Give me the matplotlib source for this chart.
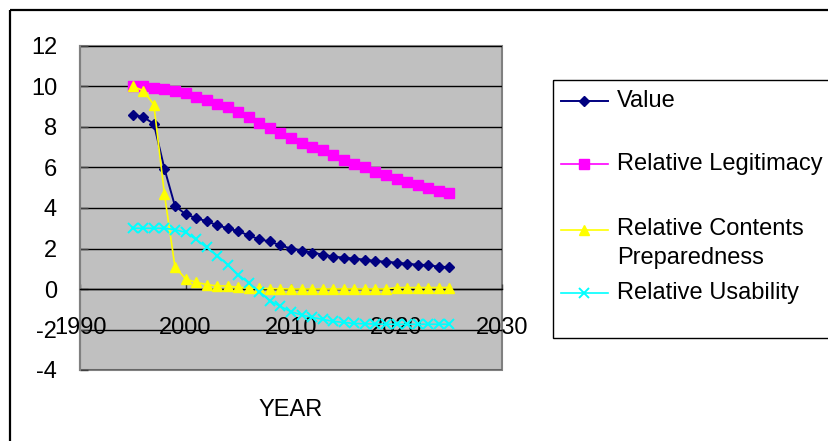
import matplotlib
matplotlib.use("Agg")
import matplotlib.pyplot as plt
from matplotlib.lines import Line2D
from matplotlib.patches import Rectangle

# ---- data ----
years = list(range(1995, 2026))
value = [8.6, 8.5, 8.15, 5.95, 4.1, 3.7, 3.5, 3.35, 3.15, 3.0, 2.85, 2.65, 2.45,
         2.35, 2.15, 2.0, 1.9, 1.8, 1.7, 1.6, 1.55, 1.5, 1.45, 1.38, 1.35, 1.3,
         1.25, 1.2, 1.18, 1.1, 1.08]
legitimacy = [10.0, 10.0, 9.95, 9.9, 9.8, 9.7, 9.5, 9.35, 9.15, 9.0, 8.75, 8.5,
              8.2, 7.95, 7.7, 7.45, 7.2, 7.0, 6.85, 6.6, 6.35, 6.15, 6.0, 5.8,
              5.65, 5.45, 5.3, 5.12, 5.0, 4.85, 4.75]
contents = [10.0, 9.8, 9.1, 4.7, 1.1, 0.5, 0.33, 0.22, 0.15, 0.15, 0.08, 0.05,
            0.03, 0.02, 0.01, 0.0, 0.0, 0.0, 0.0, 0.0, 0.0, 0.0, 0.0, 0.0, 0.0,
            0.07, 0.07, 0.07, 0.07, 0.07, 0.07]
usability = [3.0, 3.0, 3.0, 3.0, 2.93, 2.8, 2.45, 2.05, 1.65, 1.2, 0.7, 0.3,
             -0.13, -0.58, -0.86, -1.12, -1.28, -1.4, -1.5, -1.6, -1.65, -1.7,
             -1.72, -1.73, -1.74, -1.74, -1.74, -1.74, -1.74, -1.74, -1.74]

series_labels = ["Value", "Relative Legitimacy",
                 "Relative Contents\nPreparedness", "Relative Usability"]
x_ticks = [1990, 2000, 2010, 2020, 2030]
x_ticklabels = ["1990", "2000", "2010", "2020", "2030"]
y_ticks = [-4, -2, 0, 2, 4, 6, 8, 10, 12]
y_ticklabels = ["-4", "-2", "0", "2", "4", "6", "8", "10", "12"]
x_title = "YEAR"

# ---- styling ----
plt.rcParams['font.family'] = ['Liberation Sans', 'DejaVu Sans']
FS = 17
W, H = 829, 441
fig = plt.figure(figsize=(W / 100, H / 100), dpi=100)

def px_rect(l, t, r, b):
    return [l / W, 1 - b / H, (r - l) / W, (b - t) / H]

ax = fig.add_axes(px_rect(80, 46, 502, 370))
ax.set_facecolor("#C0C0C0")
ax.patch.set_edgecolor("#808080")
ax.patch.set_linewidth(1.5)

styles = [
    dict(color="#000080", marker="D", markersize=5.3, lw=1.4),
    dict(color="#FF00FF", marker="s", markersize=7.4, lw=1.2),
    dict(color="#FFFF00", marker="^", markersize=7.8, lw=1.2),
    dict(color="#00FFFF", marker="x", markersize=7.8, lw=1.2, mew=1.4),
]
data = [value, legitimacy, contents, usability]
for ys, st in zip(data, styles):
    ax.plot(years, ys, zorder=3, clip_on=False, **st)

ax.set_xlim(1990, 2030)
ax.set_ylim(-4, 12)
ax.set_yticks(y_ticks, y_ticklabels)
ax.set_xticks(x_ticks, x_ticklabels)
ax.yaxis.grid(True, color="black", lw=1.0, zorder=1)
ax.set_axisbelow(True)

for s in ["top", "right"]:
    ax.spines[s].set_visible(False)
ax.spines["left"].set_color("#808080")
ax.spines["left"].set_linewidth(1.5)
ax.spines["bottom"].set_position(("data", 0))
ax.spines["bottom"].set_color("black")
ax.spines["bottom"].set_linewidth(1.0)

ax.tick_params(axis="y", direction="in", length=6, width=1, color="#404040",
               pad=16.5, labelsize=FS)
ax.tick_params(axis="x", direction="in", length=3.5, width=1, color="#404040",
               pad=20, labelsize=FS)

ax.set_xlabel(x_title, fontsize=FS)
ax.xaxis.set_label_coords(0.5, -(409.5 - 370) / 324)
ax.xaxis.label.set_va("center")

# ---- overlay for frame and legend (pixel coords) ----
ov = fig.add_axes([0, 0, 1, 1], zorder=5)
ov.set_xlim(0, W)
ov.set_ylim(H, 0)
ov.axis("off")
ov.patch.set_alpha(0)

ov.add_patch(Rectangle((10, 10), 840, 450, fill=False, ec="black", lw=1.6,
                       clip_on=False))
ov.add_patch(Rectangle((553, 79.5), 300, 258, fill=False, ec="black", lw=1.0,
                       clip_on=False))

leg_line_y = [100.7, 164, 229.5, 292.7]
leg_text_y = [100.7, 164, 243.5, 292.7]
for st, lab, ly, ty in zip(styles, series_labels, leg_line_y, leg_text_y):
    ov.add_line(Line2D([561, 608], [ly, ly], color=st["color"], lw=st["lw"]))
    ov.add_line(Line2D([584.5], [ly], color=st["color"], marker=st["marker"],
                       markersize=st["markersize"], mew=st.get("mew", 1.0), lw=0))
    ov.text(617, ty, lab, fontsize=FS, va="center", ha="left",
            linespacing=1.4)

fig.savefig("out.png", dpi=100)
